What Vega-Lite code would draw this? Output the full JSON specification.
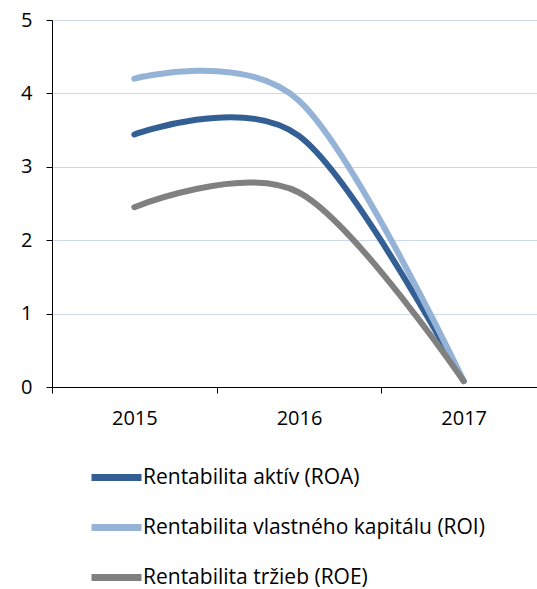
{
  "$schema": "https://vega.github.io/schema/vega-lite/v6.json",
  "width": 485,
  "height": 367,
  "autosize": {"type": "none"},
  "padding": {"left": 52, "top": 20, "right": 0, "bottom": 202},
  "background": "white",
  "data": {
    "values": [
      {"year": "2015", "series": "Rentabilita aktív (ROA)", "value": 3.44},
      {"year": "2016", "series": "Rentabilita aktív (ROA)", "value": 3.42},
      {"year": "2017", "series": "Rentabilita aktív (ROA)", "value": 0.08},
      {"year": "2015", "series": "Rentabilita vlastného kapitálu (ROI)", "value": 4.2},
      {"year": "2016", "series": "Rentabilita vlastného kapitálu (ROI)", "value": 3.9},
      {"year": "2017", "series": "Rentabilita vlastného kapitálu (ROI)", "value": 0.08},
      {"year": "2015", "series": "Rentabilita tržieb (ROE)", "value": 2.45},
      {"year": "2016", "series": "Rentabilita tržieb (ROE)", "value": 2.65},
      {"year": "2017", "series": "Rentabilita tržieb (ROE)", "value": 0.08}
    ]
  },
  "mark": {"type": "line", "interpolate": "cardinal", "tension": 0, "strokeWidth": 6, "strokeCap": "round"},
  "encoding": {
    "x": {
      "field": "year", "type": "ordinal", "bandPosition": 0.5,
      "scale": {"type": "band", "paddingInner": 0, "paddingOuter": 0, "range": [0, 494]},
      "axis": {
        "title": null, "labelAngle": 0, "tickBand": "extent", "grid": false,
        "domainColor": "black", "tickColor": "black", "tickSize": 6, "labelPadding": 15,
        "labelFont": "Open Sans", "labelFontSize": 20, "labelColor": "black"
      }
    },
    "y": {
      "field": "value", "type": "quantitative",
      "scale": {"domain": [0, 5], "nice": false},
      "axis": {
        "title": null, "values": [0, 1, 2, 3, 4, 5], "grid": true, "gridColor": "#CCD8EC", "gridWidth": 1.2,
        "domainColor": "black", "tickColor": "black", "tickSize": 6, "labelPadding": 14,
        "labelFont": "Open Sans", "labelFontSize": 20, "labelColor": "black"
      }
    },
    "color": {
      "field": "series", "type": "nominal",
      "scale": {
        "domain": ["Rentabilita aktív (ROA)", "Rentabilita vlastného kapitálu (ROI)", "Rentabilita tržieb (ROE)"],
        "range": ["#335F95", "#95B3D7", "#808080"]
      },
      "legend": {
        "title": null, "orient": "none", "direction": "vertical", "legendX": 36, "legendY": 429,
        "symbolType": "stroke", "symbolSize": 2500, "symbolStrokeWidth": 7,
        "labelFont": "Open Sans", "labelFontSize": 21, "labelColor": "black", "labelOffset": -2,
        "labelLimit": 450, "rowPadding": 7
      }
    }
  }
}
